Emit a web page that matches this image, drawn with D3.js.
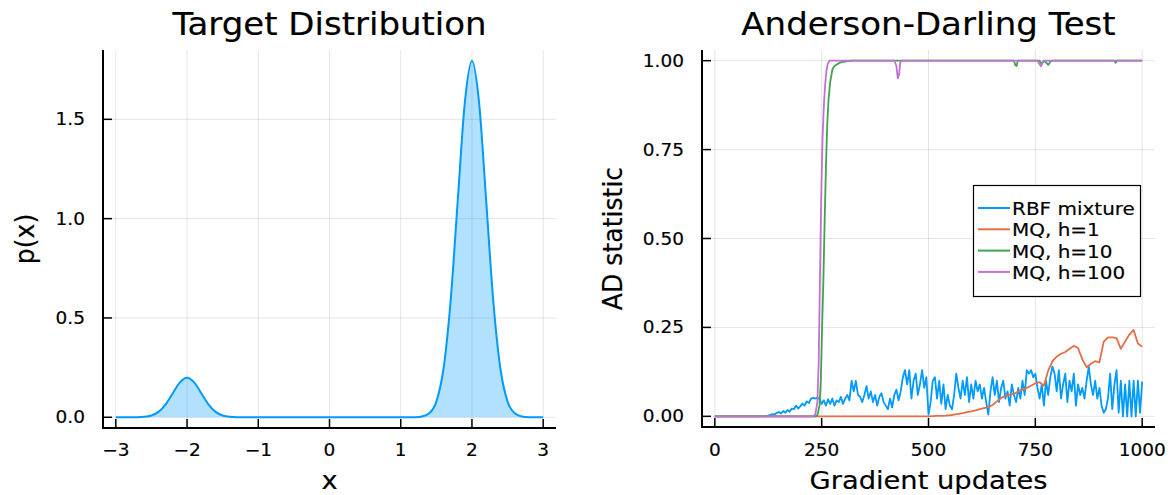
<!DOCTYPE html>
<html>
  <head>
    <meta charset="utf-8">
    <title>Target Distribution / Anderson-Darling Test</title>
    <script src="https://cdn.jsdelivr.net/npm/d3@7"></script>
    <style>
      body { margin: 0; background: white; }
      svg { display: block; font-family: "DejaVu Sans", sans-serif; }
      text { fill: #000; stroke: #000; stroke-width: 0.2; }
      .grid line { stroke: #000; stroke-opacity: 0.1; stroke-width: 1; }
      .spine { stroke: #000; stroke-width: 2; fill: none; }
      .tick { stroke: #000; stroke-width: 1.5; }
    </style>
  </head>
  <body>
    <svg id="chart" width="1168" height="495"></svg>
    <script>
      // ---- data: target density
      var densX = [-3, -2.8, -2.7, -2.6, -2.5, -2.4, -2.3, -2.2, -2.1, -2.0, -1.9, -1.8, -1.7, -1.6, -1.5, -1.4, -1.3, -1.2,
                   1.2, 1.3, 1.4, 1.5, 1.6, 1.7, 1.8, 1.9, 2.0, 2.1, 2.2, 2.3, 2.4, 2.5, 2.6, 2.7, 2.8, 3];
      var densY = [0, 0.0001, 0.0004, 0.0022, 0.0088, 0.027, 0.0648, 0.121, 0.176, 0.1995, 0.176, 0.121, 0.0648, 0.027, 0.0088, 0.0022, 0.0004, 0.0001,
                   0.0006, 0.0039, 0.0199, 0.0788, 0.243, 0.583, 1.089, 1.584, 1.795, 1.584, 1.089, 0.583, 0.243, 0.0788, 0.0199, 0.0039, 0.0006, 0];
      var densTicksX = [-3, -2, -1, 0, 1, 2, 3];
      var densTicksY = [0, 0.5, 1.0, 1.5];

      // ---- data: AD statistic vs gradient updates
      var rbfStep = 5;
      var rbfValues = [
        0,0,0,0,0,0,0,0,0,0, 0,0,0,0,0,0,0,0,0,0,
        0,0,0,0,0,0.002,0.004,0.006,0.005,0.010, 0.012,0.008,0.015,0.010,0.018,0.013,0.022,0.020,0.030,0.022,
        0.028,0.036,0.030,0.042,0.037,0.050,0.052,0.050,0.053,0.048, 0.035,0.045,0.030,0.048,0.035,0.050,0.030,0.045,0.040,0.055,
        0.035,0.050,0.060,0.045,0.100,0.070,0.100,0.060,0.055,0.040, 0.060,0.085,0.050,0.070,0.040,0.060,0.030,0.055,0.065,0.040,
        0.030,0.020,0.050,0.025,0.060,0.075,0.045,0.070,0.110,0.130, 0.090,0.130,0.050,0.100,0.120,0.060,0.090,0.130,0.080,0.110,
        0.005,0.040,0.100,0.110,0.050,0.100,0.035,0.090,0.020,0.060, 0.030,0.020,0.060,0.120,0.080,0.050,0.100,0.060,0.110,0.040,
        0.090,0.050,0.100,0.070,0.090,0.050,0.080,0.040,0.005,0.070, 0.110,0.060,0.100,0.040,0.080,0.100,0.050,0.070,0.030,0.090,
        0.060,0.040,0.080,0.050,0.100,0.060,0.130,0.120,0.130,0.110, 0.120,0.080,0.050,0.090,0.030,0.100,0.060,0.110,0.140,0.120,
        0.070,0.130,0.050,0.090,0.120,0.040,0.100,0.070,0.120,0.030, 0.090,0.060,0.080,0.050,0.100,0.140,0.090,0.060,0.100,0.050,
        0.080,0.030,0.010,0.020,0.050,0.120,0.020,0.090,0.130,0.010, 0.100,0.000,0.090,0.000,0.100,0.000,0.100,0.000,0.100,0.010,
        0.098
      ];
      var mq1Step = 10;
      var mq1Values = [
        0,0,0,0,0,0,0,0,0,0, 0,0,0,0,0,0,0,0,0,0, 0,0,0,0,0,0,0,0,0,0, 0,0,0,0,0,0,0,0,0,0, 0,0,0,0,0,0,0,0,0,0,
        0, 0.0005, 0.001, 0.0015, 0.002, 0.003, 0.005, 0.007, 0.009, 0.012,
        0.014, 0.017, 0.020, 0.023, 0.026, 0.032, 0.042, 0.052, 0.058, 0.061,
        0.063, 0.070, 0.075, 0.080, 0.086, 0.093, 0.096, 0.086, 0.128, 0.155,
        0.168, 0.176, 0.181, 0.190, 0.198, 0.192, 0.160, 0.138, 0.148, 0.155,
        0.152, 0.210, 0.222, 0.222, 0.220, 0.190, 0.210, 0.230, 0.243, 0.205,
        0.196
      ];
      var mq10X = [0, 235, 240, 245, 248, 251, 254, 257, 260, 263, 266, 270, 275, 280, 290, 300, 320,
                   700, 703, 706, 709, 760, 765, 770, 775, 780, 785, 790, 935, 938, 941, 1000];
      var mq10Y = [0, 0, 0.003, 0.03, 0.1, 0.25, 0.38, 0.55, 0.7, 0.82, 0.89, 0.94, 0.975, 0.985, 0.993, 0.997, 1.0,
                   1.0, 0.988, 0.985, 1.0, 1.0, 0.99, 1.0, 0.995, 0.988, 0.997, 1.0, 1.0, 0.994, 1.0, 1.0];
      var mq100X = [0, 230, 235, 240, 243, 246, 249, 252, 255, 258, 261, 264, 268,
                    420, 425, 428, 431, 434, 438, 755, 760, 763, 766, 770, 1000];
      var mq100Y = [0, 0, 0.005, 0.04, 0.15, 0.385, 0.62, 0.78, 0.87, 0.93, 0.97, 0.99, 1.0,
                    1.0, 0.985, 0.95, 0.96, 0.995, 1.0, 1.0, 0.99, 0.984, 0.995, 1.0, 1.0];
      var adTicksX = [0, 250, 500, 750, 1000];
      var adTicksY = [0, 0.25, 0.5, 0.75, 1.0];
      var seriesNames = ["RBF mixture", "MQ, h=1", "MQ, h=10", "MQ, h=100"];
      var seriesColors = ["#009AFA", "#E36F47", "#3EA44E", "#C371D2"];

      // text is a touch squashed vertically in the reference
      var SY = 0.92;
      var svg = d3.select("#chart");

      function label(g, x, y, str, size, anchor, rotate) {
        return g.append("text")
          .attr("transform", "translate(" + x + "," + y + ") scale(1," + SY + ")" + (rotate ? " rotate(-90)" : ""))
          .attr("text-anchor", anchor)
          .style("font-size", size + "px")
          .text(str);
      }

      function panel(opts) {
        var g = svg.append("g");
        var x = d3.scaleLinear().domain(opts.xDomain).range([opts.left, opts.right]);
        var y = d3.scaleLinear().domain(opts.yDomain).range([opts.bottom, opts.top]);
        // grid
        var grid = g.append("g").attr("class", "grid");
        grid.selectAll(".gx").data(opts.xTicks).enter().append("line")
          .attr("x1", x).attr("x2", x).attr("y1", opts.top).attr("y2", opts.bottom);
        grid.selectAll(".gy").data(opts.yTicks).enter().append("line")
          .attr("x1", opts.left).attr("x2", opts.right).attr("y1", y).attr("y2", y);
        // series
        opts.draw(g, x, y);
        // spines and inward ticks
        g.append("path").attr("class", "spine")
          .attr("d", "M" + opts.left + "," + opts.top + "V" + opts.bottom + "H" + opts.right);
        g.selectAll(".tx").data(opts.xTicks).enter().append("line").attr("class", "tick")
          .attr("x1", x).attr("x2", x).attr("y1", opts.bottom).attr("y2", opts.bottom - 9);
        g.selectAll(".ty").data(opts.yTicks).enter().append("line").attr("class", "tick")
          .attr("x1", opts.left).attr("x2", opts.left + 9).attr("y1", y).attr("y2", y);
        // tick labels
        opts.xTicks.forEach(function(d) {
          label(g, x(d), 456, opts.xFmt(d), 18.5, "middle");
        });
        opts.yTicks.forEach(function(d) {
          label(g, opts.left - 18, y(d) + 6, opts.yFmt(d), 18.5, "end");
        });
        // titles
        var cx = (opts.left + opts.right) / 2;
        label(g, cx, 35, opts.title, 34, "middle");
        label(g, cx, 489, opts.xLabel, 27.3, "middle");
        label(g, opts.yLabelX, (opts.top + opts.bottom) / 2, opts.yLabel, 27.3, "middle", true);
        return g;
      }

      var minus = function(d) { return d < 0 ? "\u2212" + Math.abs(d) : String(d); };

      // left panel
      panel({
        left: 103, right: 556, top: 50, bottom: 428,
        xDomain: [-3.18, 3.18], yDomain: [-0.054, 1.849],
        xTicks: densTicksX, yTicks: densTicksY,
        xFmt: minus, yFmt: d3.format(".1f"),
        title: "Target Distribution", xLabel: "x", yLabel: "p(x)", yLabelX: 34,
        draw: function(g, x, y) {
          var pts = densX.map(function(d, i) { return [d, densY[i]]; });
          g.append("path")
            .attr("d", d3.area().x(function(d) { return x(d[0]); }).y0(y(0)).y1(function(d) { return y(d[1]); })
              .curve(d3.curveMonotoneX)(pts))
            .attr("fill", seriesColors[0]).attr("fill-opacity", 0.3);
          g.append("path")
            .attr("d", d3.line().x(function(d) { return x(d[0]); }).y(function(d) { return y(d[1]); })
              .curve(d3.curveMonotoneX)(pts))
            .attr("fill", "none").attr("stroke", seriesColors[0]).attr("stroke-width", 2);
        }
      });

      // right panel
      var adSeries = [
        rbfValues.map(function(v, i) { return [i * rbfStep, v]; }),
        mq1Values.map(function(v, i) { return [i * mq1Step, v]; }),
        mq10X.map(function(d, i) { return [d, mq10Y[i]]; }),
        mq100X.map(function(d, i) { return [d, mq100Y[i]]; })
      ];

      panel({
        left: 702, right: 1155, top: 50, bottom: 427,
        xDomain: [-30, 1030], yDomain: [-0.03, 1.03],
        xTicks: adTicksX, yTicks: adTicksY,
        xFmt: String, yFmt: d3.format(".2f"),
        title: "Anderson-Darling Test", xLabel: "Gradient updates", yLabel: "AD statistic", yLabelX: 622,
        draw: function(g, x, y) {
          var line = d3.line().x(function(d) { return x(d[0]); }).y(function(d) { return y(d[1]); });
          g.selectAll(".series").data(adSeries).enter().append("path")
            .attr("d", line)
            .attr("fill", "none")
            .attr("stroke", function(d, i) { return seriesColors[i]; })
            .attr("stroke-width", 1.8)
            .attr("stroke-linejoin", "round");

          // legend
          var lg = g.append("g");
          lg.append("rect").attr("x", 973.5).attr("y", 185.5).attr("width", 167).attr("height", 111)
            .attr("fill", "white").attr("stroke", "black").attr("stroke-width", 1.2);
          seriesNames.forEach(function(name, i) {
            var ry = 208 + i * 21.3;
            lg.append("line").attr("x1", 978).attr("x2", 1010).attr("y1", ry).attr("y2", ry)
              .attr("stroke", seriesColors[i]).attr("stroke-width", 2);
            label(lg, 1012, ry + 7, name, 20, "start");
          });
        }
      });
    </script>
  </body>
</html>
